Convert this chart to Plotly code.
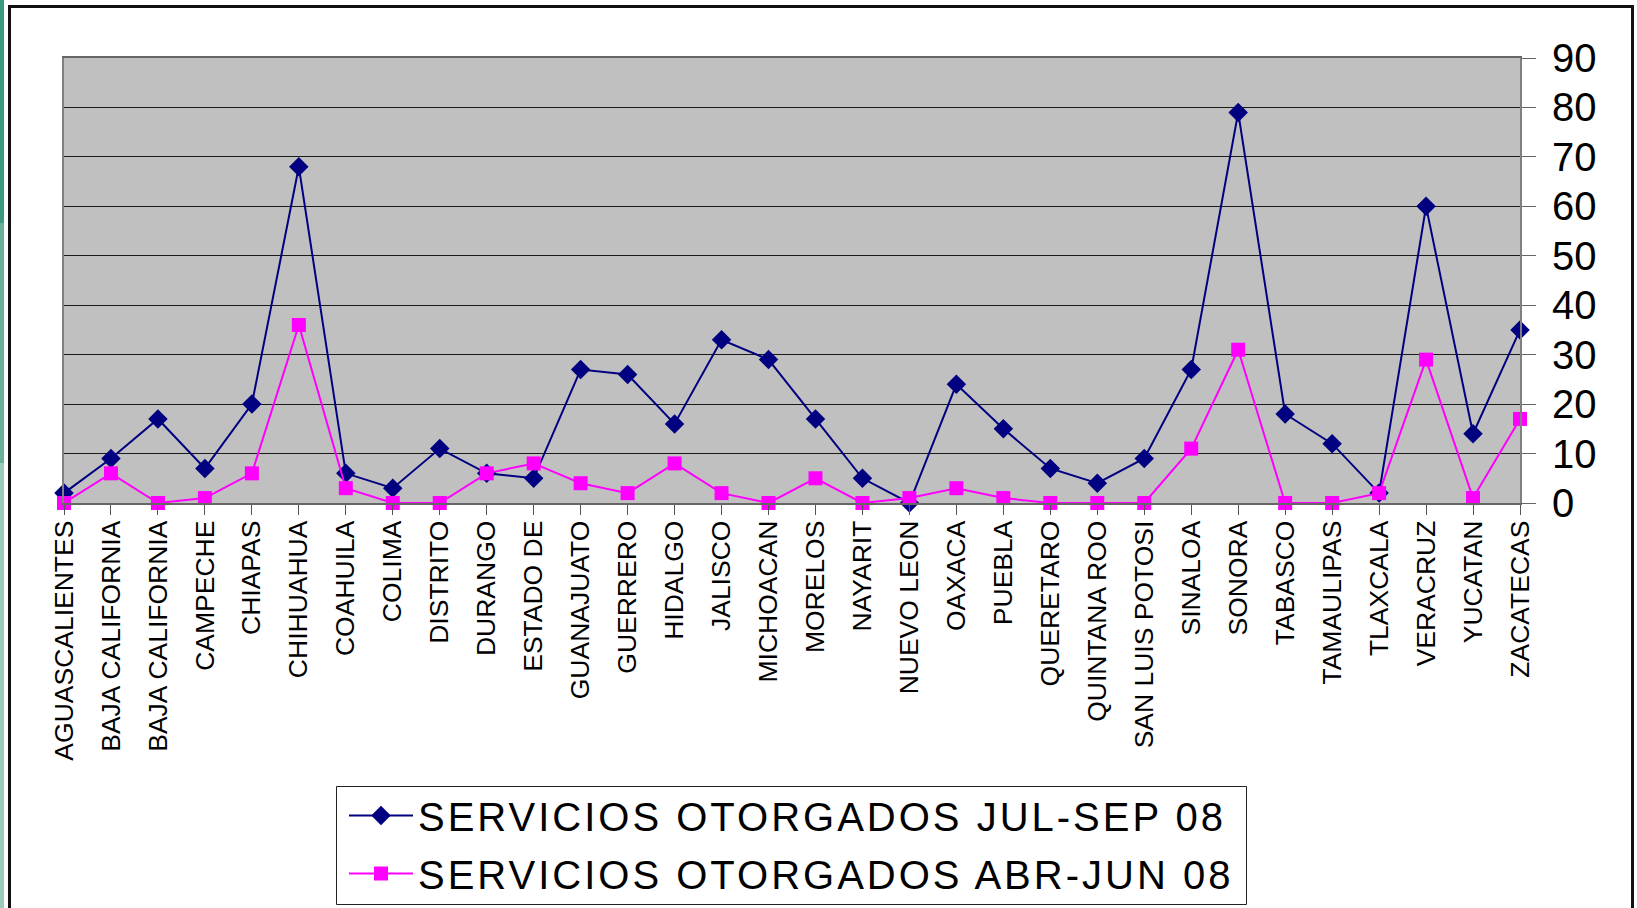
import plotly.graph_objects as go

states = ["AGUASCALIENTES", "BAJA CALIFORNIA", "BAJA CALIFORNIA", "CAMPECHE", "CHIAPAS",
          "CHIHUAHUA", "COAHUILA", "COLIMA", "DISTRITO", "DURANGO", "ESTADO DE",
          "GUANAJUATO", "GUERRERO", "HIDALGO", "JALISCO", "MICHOACAN", "MORELOS",
          "NAYARIT", "NUEVO LEON", "OAXACA", "PUEBLA", "QUERETARO", "QUINTANA ROO",
          "SAN LUIS POTOSI", "SINALOA", "SONORA", "TABASCO", "TAMAULIPAS", "TLAXCALA",
          "VERACRUZ", "YUCATAN", "ZACATECAS"]
jul_sep = [2, 9, 17, 7, 20, 68, 6, 3, 11, 6, 5, 27, 26, 16, 33, 29, 17, 5, 0, 24,
           15, 7, 4, 9, 27, 79, 18, 12, 2, 60, 14, 35]
abr_jun = [0, 6, 0, 1, 6, 36, 3, 0, 0, 6, 8, 4, 2, 8, 2, 0, 5, 0, 1, 3,
           1, 0, 0, 0, 11, 31, 0, 0, 2, 29, 1, 17]
y_ticks = [0, 10, 20, 30, 40, 50, 60, 70, 80, 90]
series_names = ["SERVICIOS OTORGADOS JUL-SEP 08", "SERVICIOS OTORGADOS ABR-JUN 08"]

W, H = 1637, 908
L, R, T, B = 64, 117, 58, 405
PW, PH = W - L - R, H - T - B

def xp(px):
    return (px - L) / PW

def yp(py):
    return (H - B - py) / PH

idx = list(range(len(states)))

fig = go.Figure()
fig.add_trace(go.Scatter(
    x=idx, y=jul_sep, name=series_names[0], mode="lines+markers", legendgroup="a",
    line=dict(color="#000080", width=2),
    marker=dict(symbol="diamond", size=15, color="#000080"),
    cliponaxis=False))
fig.add_trace(go.Scatter(
    x=idx, y=abr_jun, name=series_names[1], mode="lines+markers", legendgroup="b",
    line=dict(color="#FF00FF", width=2),
    marker=dict(symbol="square", size=14, color="#FF00FF"),
    cliponaxis=False))

shapes = [
    dict(type="rect", xref="paper", yref="paper", x0=xp(0), x1=xp(4), y0=yp(0), y1=yp(223),
         fillcolor="#3a9a80", line=dict(width=0), layer="below"),
    dict(type="rect", xref="paper", yref="paper", x0=xp(0), x1=xp(4), y0=yp(223), y1=yp(463),
         fillcolor="#6aae9c", line=dict(width=0), layer="below"),
    dict(type="rect", xref="paper", yref="paper", x0=xp(0), x1=xp(4), y0=yp(463), y1=yp(910),
         fillcolor="#9ccbbd", line=dict(width=0), layer="below"),
    dict(type="rect", xref="paper", yref="paper", x0=xp(9.5), x1=xp(1632.5), y0=yp(6.5), y1=yp(930),
         line=dict(color="#111111", width=3), fillcolor="rgba(0,0,0,0)", layer="below"),
    # legend frame
    dict(type="rect", xref="paper", yref="paper", x0=xp(336.5), x1=xp(1246.5), y0=yp(786.5), y1=yp(904.5),
         line=dict(color="#222222", width=1), fillcolor="white", layer="below"),
]

fig.update_layout(
    width=W, height=H,
    margin=dict(l=L, r=R, t=T, b=B, pad=0, autoexpand=False),
    paper_bgcolor="white",
    plot_bgcolor="#C0C0C0",
    font=dict(family="Liberation Sans, Arial, sans-serif", color="black"),
    showlegend=True,
    legend=dict(
        x=xp(344), y=yp(783), xanchor="left", yanchor="top",
        bgcolor="rgba(0,0,0,0)", borderwidth=0,
        font=dict(size=40, family="Liberation Sans, Arial, sans-serif", color="black"),
        itemwidth=64, tracegroupgap=3,
    ),
    shapes=shapes,
    xaxis=dict(
        range=[0, len(states) - 1],
        tickmode="array", tickvals=idx, ticktext=states,
        tickangle=-90,
        tickfont=dict(size=26.5, family="Liberation Sans, Arial", color="black"),
        ticks="outside", ticklen=10, tickcolor="#555555", tickwidth=1,
        ticklabelstandoff=-5,
        showgrid=False, zeroline=False,
        showline=True, linecolor="#666666", linewidth=2, mirror=True,
    ),
    yaxis=dict(
        range=[0, 90], side="right",
        tickmode="array", tickvals=y_ticks,
        tickfont=dict(size=40, color="black"),
        ticks="outside", ticklen=14, tickcolor="#666666", tickwidth=1,
        ticklabelstandoff=8,
        showgrid=True, gridcolor="#1a1a1a", gridwidth=1,
        zeroline=False,
        showline=True, linecolor="#808080", linewidth=2, mirror=True,
    ),
)

post = """
document.body.style.margin='0';
document.body.style.overflow='hidden';
document.querySelectorAll('.legendtext').forEach(function(e){e.style.letterSpacing='3px';});
document.querySelectorAll('.legend .scrollbox, .legend [clip-path]').forEach(function(e){e.removeAttribute('clip-path');});
"""

fig.write_html("out.html", post_script=post, config={"displayModeBar": False})
